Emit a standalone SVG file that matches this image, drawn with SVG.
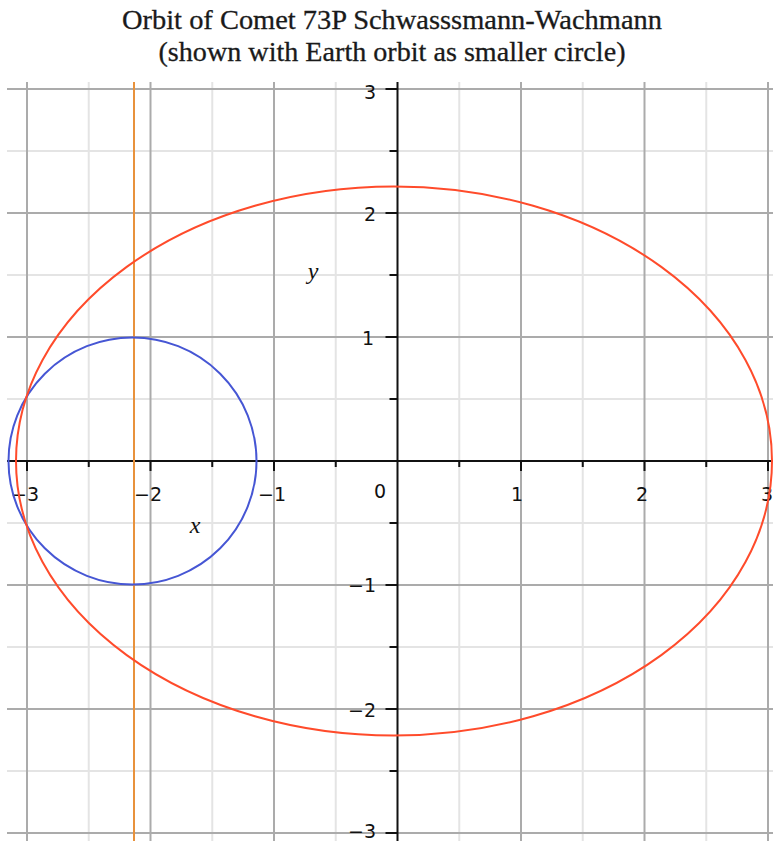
<svg xmlns="http://www.w3.org/2000/svg" width="773" height="841" viewBox="0 0 773 841">
<style>
.major{stroke:#ababab;stroke-width:2;fill:none}
.minor{stroke:#e4e4e4;stroke-width:2;fill:none}
.axis{stroke:#111;stroke-width:2;fill:none}
.tick{stroke:#111;stroke-width:2}
.title{font-family:"Liberation Serif","Times New Roman",serif;font-size:28px;fill:#1a1a1a;text-anchor:middle;stroke:#1a1a1a;stroke-width:0.3}
.num{font-family:"DejaVu Sans",sans-serif;font-size:19px;fill:#111}
.var{font-family:"Liberation Serif",serif;font-style:italic;font-size:24px;fill:#111}
</style>
<rect width="773" height="841" fill="#fff"/>
<g id="title">
<text class="title" x="392" y="29" textLength="540" lengthAdjust="spacingAndGlyphs">Orbit of Comet 73P Schwasssmann-Wachmann</text>
<text class="title" x="392" y="61" textLength="467" lengthAdjust="spacingAndGlyphs">(shown with Earth orbit as smaller circle)</text>
</g>
<g id="grid-minor">
<line class="minor" x1="88.75" y1="82" x2="88.75" y2="841"/>
<line class="minor" x1="212.25" y1="82" x2="212.25" y2="841"/>
<line class="minor" x1="335.75" y1="82" x2="335.75" y2="841"/>
<line class="minor" x1="459.25" y1="82" x2="459.25" y2="841"/>
<line class="minor" x1="582.75" y1="82" x2="582.75" y2="841"/>
<line class="minor" x1="706.25" y1="82" x2="706.25" y2="841"/>
<line class="minor" x1="7" y1="151" x2="773" y2="151"/>
<line class="minor" x1="7" y1="275" x2="773" y2="275"/>
<line class="minor" x1="7" y1="399" x2="773" y2="399"/>
<line class="minor" x1="7" y1="523" x2="773" y2="523"/>
<line class="minor" x1="7" y1="647" x2="773" y2="647"/>
<line class="minor" x1="7" y1="771" x2="773" y2="771"/>
</g>
<g id="grid-major">
<line class="major" x1="27" y1="82" x2="27" y2="841"/>
<line class="major" x1="150.5" y1="82" x2="150.5" y2="841"/>
<line class="major" x1="274" y1="82" x2="274" y2="841"/>
<line class="major" x1="521" y1="82" x2="521" y2="841"/>
<line class="major" x1="644.5" y1="82" x2="644.5" y2="841"/>
<line class="major" x1="768" y1="82" x2="768" y2="841"/>
<line class="major" x1="7" y1="89" x2="773" y2="89"/>
<line class="major" x1="7" y1="213" x2="773" y2="213"/>
<line class="major" x1="7" y1="337" x2="773" y2="337"/>
<line class="major" x1="7" y1="585" x2="773" y2="585"/>
<line class="major" x1="7" y1="709" x2="773" y2="709"/>
<line class="major" x1="7" y1="833" x2="773" y2="833"/>
</g>
<g id="axes">
<line class="axis" x1="7" y1="461" x2="773" y2="461"/>
<line class="axis" x1="397.5" y1="82" x2="397.5" y2="841"/>
<path class="tick" d="M27 461v10M88.75 461v6M150.5 461v10M212.25 461v6M274 461v10M335.75 461v6M459.25 461v6M521 461v10M582.75 461v6M644.5 461v10M706.25 461v6M768 461v10"/>
<path class="tick" d="M397.5 89h-12M397.5 151h-8M397.5 213h-12M397.5 275h-8M397.5 337h-12M397.5 399h-8M397.5 523h-8M397.5 585h-12M397.5 647h-8M397.5 709h-12M397.5 771h-8M397.5 833h-12"/>
</g>
<g id="x-labels" class="num" text-anchor="middle">
<text x="25" y="501">−3</text>
<text x="148" y="501">−2</text>
<text x="272" y="501">−1</text>
<text x="380" y="498">0</text>
<text x="517" y="501">1</text>
<text x="642" y="501">2</text>
<text x="767" y="501">3</text>
</g>
<g id="y-labels" class="num" text-anchor="end">
<text x="376" y="99">3</text>
<text x="376" y="221">2</text>
<text x="374" y="345">1</text>
<text x="376" y="592">−1</text>
<text x="376" y="717">−2</text>
<text x="376" y="838">−3</text>
</g>
<g id="axis-names">
<text class="var" x="313" y="279" text-anchor="middle">y</text>
<text class="var" x="195" y="533" text-anchor="middle">x</text>
</g>
<g id="curves" fill="none" stroke-width="2">
<line id="focus-line" x1="134" y1="82" x2="134" y2="841" stroke="#E8923C"/>
<ellipse id="earth-orbit" cx="132.5" cy="461" rx="124" ry="123.5" stroke="#4656D4"/>
<ellipse id="comet-orbit" cx="394" cy="461" rx="378" ry="274.5" stroke="#FF4B2B"/>
</g>
</svg>
